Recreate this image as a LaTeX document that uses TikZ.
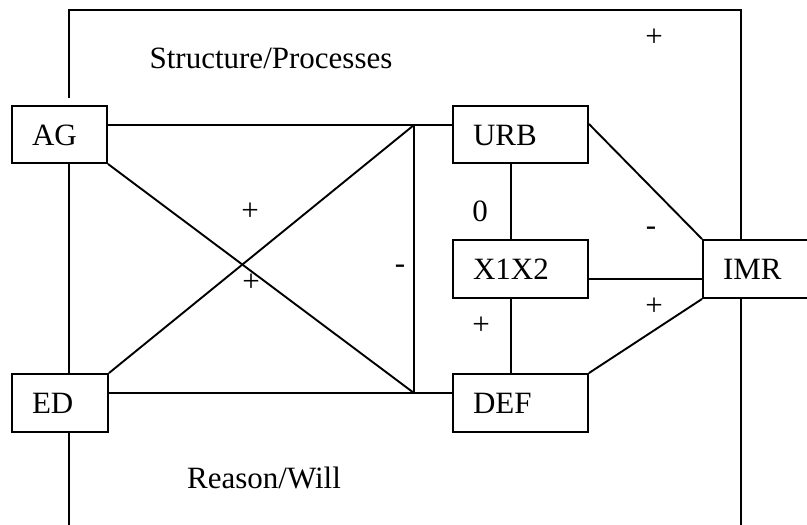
\documentclass[tikz,border=0pt]{standalone}
\usepackage{fontspec}
\setmainfont{Liberation Serif}
\begin{document}
\begin{tikzpicture}[x=1pt,y=-1pt,line width=1.9pt,
  box/.style={draw,rectangle,fill=white,inner xsep=20pt,inner ysep=0pt,align=left,
    font=\fontsize{31}{36}\selectfont,text height=21pt,text depth=0pt},
  sign/.style={font=\fontsize{31}{36}\selectfont,inner sep=0pt},
  title/.style={font=\fontsize{31}{36}\selectfont,inner sep=0pt}]
\useasboundingbox (0,0) rectangle (807,525);
\clip (0,0) rectangle (807,525);
% frame
\coordinate (FTL) at (69,10);
\coordinate (FTR) at (741,10);
\coordinate (FBL) at (69,525);
\coordinate (FBR) at (741,525);
% boxes
\node[box,text width=55pt,minimum height=57pt] (AG) at (59.5,134.5) {AG};
\node[box,text width=56pt,minimum height=58pt] (ED) at (60,403) {ED};
\node[box,text width=95pt,minimum height=57pt] (URB) at (520.5,134.5) {URB};
\node[box,text width=95pt,minimum height=58pt] (X) at (520.5,269) {X1X2};
\node[box,text width=95pt,minimum height=58pt] (DEF) at (520.5,403) {DEF};
\node[box,text width=72pt,minimum height=58pt] (IMR) at (759,269) {IMR};
% frame lines
\draw (FTL |- AG.north) ++(0,-7) -- (FTL) -- (FTR) -- (FTR |- IMR.north);
\draw (AG.south -| FTL) -- (ED.north -| FTL);
\draw (ED.south -| FTL) -- (FBL);
\draw (IMR.south -| FTR) -- (FBR);
% triangle structure
\coordinate (T) at (414,125);
\coordinate (B) at (414,393);
\draw (AG.east |- T) -- (T) -- (URB.west |- T);
\draw (ED.east |- B) -- (B) -- (DEF.west |- B);
\draw (T) -- (B);
\draw (AG.south east) -- (B);
\draw (ED.north east) -- (T);
% right part
\draw ([xshift=-9.5pt]URB.south) -- ([xshift=-9.5pt]X.north);
\draw ([xshift=-9.5pt]X.south) -- ([xshift=-9.5pt]DEF.north);
\draw ([yshift=10.5pt]URB.east) -- (IMR.north west);
\draw ([yshift=-10pt]X.east) -- ([yshift=-10pt]IMR.west);
\draw (DEF.north east) -- (IMR.south west);
% labels
\node[title] (t1) at (271,58) {Structure/Processes};
\node[title] (t2) at (264,478) {Reason/Will};
\node[sign] (s1) at (654,38) {+};
\node[sign] (s2) at (250,212) {+};
\node[sign] (s3) at (251,283) {+};
\node[sign] (s4) at (400,269) {-};
\node[sign] (s5) at (480,211) {0};
\node[sign] (s6) at (651,231) {-};
\node[sign] (s7) at (481,326) {+};
\node[sign] (s8) at (654,307) {+};
\end{tikzpicture}
\end{document}
